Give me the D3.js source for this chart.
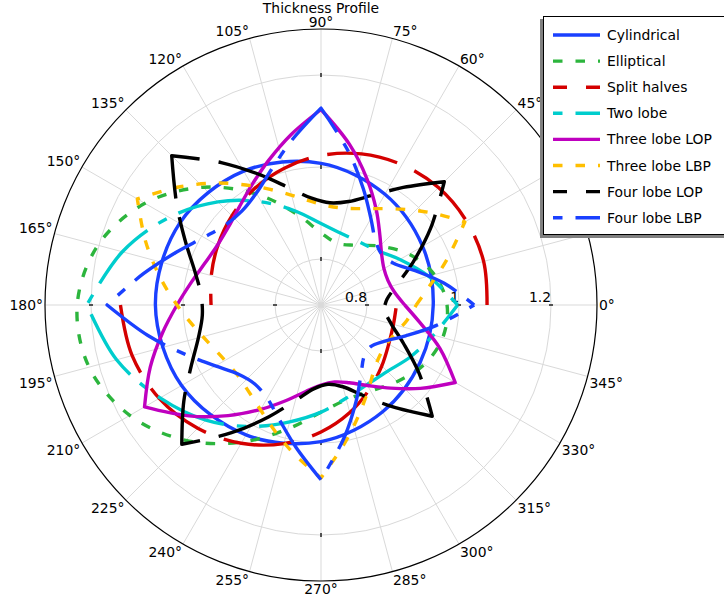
<!DOCTYPE html>
<html><head><meta charset="utf-8">
<script src="https://cdn.jsdelivr.net/npm/d3@7"></script>
<style>body{margin:0;background:#fff}svg{display:block}text{font-family:"DejaVu Sans",sans-serif}</style>
</head><body>
<svg id="chart" width="724" height="602"></svg>
<script>
// ---------------- data ----------------
const seriesNames = ["Cylindrical","Elliptical","Split halves","Two lobe","Three lobe LOP","Three lobe LBP","Four lobe LOP","Four lobe LBP"];
const angleGrid = [0,15,30,45,60,75,90,105,120,135,150,165,180,195,210,225,240,255,270,285,300,315,330,345];
// 15° and 30° labels sit under the legend in the reference, so only the visible ones are written
const angleLabels = [0,45,60,75,90,105,120,135,150,165,180,195,210,225,240,255,270,285,300,315,330,345];
const radialTicks = [0.8,1.0,1.2];
const radialTickLabels = ["0.8","1","1.2"];

const cylAngles = [0,30,60,90,120,150,180,210,240,270,300,330];
const cylValues = [0.944,0.955,0.978,1.008,1.036,1.055,1.060,1.050,1.026,0.997,0.968,0.949];

const ellAngles = [0,15,30,45,60,75,90,105,120,135,150,165,180,195,210,225,240,255,270,285,300,315,330,345];
const ellValues = [0.974,0.955,0.921,0.881,0.850,0.839,0.857,0.905,0.978,1.062,1.142,1.202,1.230,1.222,1.180,1.116,1.044,0.979,0.933,0.913,0.916,0.935,0.959,0.974];

const splitAngles = [0,15,30,45,60,75,90,105,120,135,150,165,180,
                     180,195,210,225,240,255,270,285,300,315,330,345,360];
const splitValues = [1.061,1.066,1.065,1.061,1.052,1.040,1.025,1.008,0.991,0.974,0.959,0.947,0.939,
                     1.136,1.125,1.106,1.079,1.047,1.012,0.976,0.942,0.911,0.887,0.870,0.863,0.864];

const twoAngles = [0,15,30,45,60,75,90,105,120,135,150,165,180,195,210,225,240,255,270,285,300,315,330,345,360];
const twoValues = [0.997,0.942,0.898,0.869,0.860,0.862,0.877,0.911,0.959,1.017,1.081,1.147,1.209,
                   1.160,1.104,1.054,1.005,0.963,0.933,0.910,0.900,0.904,0.925,0.953,0.997];

const lop3Angles = [0,10,20,30,40,50,60,70,80,90,100,110,120,130,140,150,160,170,180,190,200,210,220,230,240,250,260,270,280,290,300,310,320,330,340,350,360];
const lop3Values = [0.882,0.862,0.855,0.858,0.872,0.899,0.940,0.992,1.055,1.125,
                    1.076,1.034,1.001,0.977,0.963,0.960,0.968,0.986,1.013,1.050,1.095,1.143,
                    1.075,1.014,0.962,0.921,0.891,0.874,0.870,0.880,0.902,0.936,0.982,1.037,
                    0.975,0.918,0.882];

const lbp3Angles = [0,10,20,30,40,50,60,70,80,90,100,110,120,130,140,150,160,170,180,190,200,210,220,230,240,250,260,270,280,290,300,310,320,330,340,350,360];
const lbp3Values = [0.907,0.940,0.992,1.061,
                    1.012,0.972,0.942,0.923,0.915,0.919,0.935,0.962,0.999,1.046,1.100,1.161,
                    1.106,1.056,1.013,0.979,0.955,0.941,0.937,0.945,0.963,0.992,1.030,1.076,
                    1.003,0.948,0.908,0.881,0.868,0.866,0.874,0.890,0.907];

const lop4Angles = [0,5,15,25,35,45,55,65,75,85,95,105,115,125,135,145,155,165,175,185,195,205,215,225,235,245,255,265,275,285,295,305,315,325,335,345,355,360];
const lop4Values = [0.839,0.844,0.871,0.921,0.991,1.079,
                    1.012,0.963,0.933,0.923,0.933,0.963,1.012,1.078,1.159,
                    1.083,1.025,0.984,0.962,0.959,0.976,1.011,1.064,1.128,
                    1.039,0.968,0.915,0.883,0.873,0.884,0.917,0.970,1.042,
                    0.961,0.898,0.858,0.839,0.839];

const lbp4Angles = [0,10,20,30,40,50,60,70,80,90,100,110,120,130,140,150,160,170,180,190,200,210,220,230,240,250,260,270,280,290,300,310,320,330,340,350,360];
const lbp4Values = [1.033,0.972,0.918,0.882,0.872,0.884,0.917,0.969,1.040,1.128,
                    1.064,1.014,0.981,0.967,0.971,0.994,1.035,1.092,1.165,
                    1.082,1.014,0.965,0.934,0.924,0.934,0.965,1.014,1.080,
                    0.992,0.923,0.874,0.846,0.841,0.858,0.896,0.955,1.033];

// ---------------- styles ----------------
const cx = 321, cy = 305, R = 276;
const styles = [
  {angles: cylAngles, values: cylValues, cusps: [], closed: true, color: "#1a40ff", dash: null, off: 0, legOff: 0},
  {angles: ellAngles, values: ellValues, cusps: [], closed: true, color: "#2cb53d", dash: "9.5 13", off: 0, legOff: 0},
  {angles: splitAngles, values: splitValues, cusps: [], closed: false, color: "#d40000", dash: "71 19", off: 0, legOff: 57},
  {angles: twoAngles, values: twoValues, cusps: [180], closed: false, color: "#00cdcd", dash: "9.5 13 72 13", off: 0, legOff: 0},
  {angles: lop3Angles, values: lop3Values, cusps: [90,210,330], closed: false, color: "#bf00bf", dash: null, off: 0, legOff: 0},
  {angles: lbp3Angles, values: lbp3Values, cusps: [30,150,270], closed: false, color: "#ffbf00", dash: "9.5 13", off: 0, legOff: 0},
  {angles: lop4Angles, values: lop4Values, cusps: [45,135,225,315], closed: false, color: "#000000", dash: "71 19", off: 57, legOff: 57},
  {angles: lbp4Angles, values: lbp4Values, cusps: [90,180,270], closed: false, color: "#1a40ff", dash: "9.5 13 72 13", off: 0, legOff: 0}
];

const svg = d3.select("#chart");
const rScale = d3.scaleLinear().domain([0.7, 1.3]).range([0, R]);
const toD3 = deg => Math.PI / 2 - deg * Math.PI / 180;
const g = svg.append("g").attr("transform", `translate(${cx},${cy})`);

// grid
g.selectAll("line.spoke").data(angleGrid).join("line")
  .attr("x1", 0).attr("y1", 0)
  .attr("x2", d => R * Math.cos(d * Math.PI / 180))
  .attr("y2", d => -R * Math.sin(d * Math.PI / 180))
  .attr("stroke", "#d9d9d9").attr("stroke-width", 1);
g.selectAll("circle.grid").data(radialTicks).join("circle")
  .attr("r", d => rScale(d)).attr("fill", "none")
  .attr("stroke", "#d9d9d9").attr("stroke-width", 1);
[0, 90, 180, 270].forEach(a => {
  radialTicks.forEach(v => {
    const rr = rScale(v), ca = Math.cos(a * Math.PI / 180), sa = Math.sin(a * Math.PI / 180);
    g.append("line")
      .attr("x1", (rr - 2) * ca).attr("y1", -(rr - 2) * sa)
      .attr("x2", (rr + 2) * ca).attr("y2", -(rr + 2) * sa)
      .attr("stroke", "#222").attr("stroke-width", 1.5);
  });
});
g.append("circle").attr("r", R).attr("fill", "none").attr("stroke", "#000").attr("stroke-width", 1.2);

g.selectAll("text.rlab").data(radialTicks).join("text")
  .attr("x", d => rScale(d)).attr("y", -3)
  .attr("text-anchor", "end").attr("font-size", "13.9px").attr("fill", "#000")
  .text((d, i) => radialTickLabels[i]);

// series
function buildPath(s) {
  const pts = s.angles.map((a, i) => [a, s.values[i]]);
  if (s.closed) {
    return d3.lineRadial().angle(d => toD3(d[0])).radius(d => rScale(d[1]))
      .curve(d3.curveCatmullRomClosed.alpha(0.5))(pts);
  }
  const line = d3.lineRadial().angle(d => toD3(d[0])).radius(d => rScale(d[1]))
    .curve(d3.curveCatmullRom.alpha(0.5));
  const segs = [];
  let cur = [], connect = false;
  pts.forEach((p, i) => {
    if (cur.length && p[0] === cur[cur.length - 1][0]) { // jump -> new subpath
      segs.push({pts: cur, connect}); cur = [p]; connect = false; return;
    }
    cur.push(p);
    if (s.cusps.includes(p[0]) && cur.length > 1 && i < pts.length - 1) {
      segs.push({pts: cur, connect}); cur = [p]; connect = true;
    }
  });
  segs.push({pts: cur, connect});
  return segs.map((sg, k) => {
    let d = line(sg.pts);
    if (k > 0 && sg.connect) d = d.replace(/^M/, "L");
    return d;
  }).join("");
}
styles.forEach(s => {
  g.append("path").attr("d", buildPath(s))
    .attr("fill", "none").attr("stroke", s.color).attr("stroke-width", 3.4)
    .attr("stroke-linejoin", "round").attr("stroke-linecap", "butt")
    .attr("stroke-dasharray", s.dash).attr("stroke-dashoffset", s.off);
});

// angle labels
angleLabels.forEach(a => {
  const ca = Math.cos(a * Math.PI / 180), sa = Math.sin(a * Math.PI / 180);
  const px = (R + 2) * ca, py = -(R + 2) * sa;
  const anchor = ca > 0.01 ? "start" : (ca < -0.01 ? "end" : "middle");
  const by = sa > 0.01 ? py : (sa < -0.01 ? py + 11 : py + 5);
  g.append("text").attr("font-size", "13.9px").attr("fill", "#000")
    .attr("text-anchor", anchor).attr("x", px).attr("y", by).text(a + "\u00b0");
});

// title
svg.append("text").attr("x", cx).attr("y", 12.5).attr("text-anchor", "middle")
  .attr("font-size", "13.9px").text("Thickness Profile");

// legend
const lg = svg.append("g");
lg.append("rect").attr("x", 540).attr("y", 19).attr("width", 200).attr("height", 219).attr("fill", "#808080");
lg.append("rect").attr("x", 543.5).attr("y", 16.5).attr("width", 200).attr("height", 218)
  .attr("fill", "#fff").attr("stroke", "#000").attr("stroke-width", 1);
styles.forEach((s, i) => {
  const y = 35 + i * 26.1;
  lg.append("line").attr("x1", 553).attr("x2", 600).attr("y1", y).attr("y2", y)
    .attr("stroke", s.color).attr("stroke-width", 3.4)
    .attr("stroke-dasharray", s.dash).attr("stroke-dashoffset", s.legOff);
  lg.append("text").attr("x", 607).attr("y", y).attr("dy", "0.36em")
    .attr("font-size", "13.9px").text(seriesNames[i]);
});
</script>
</body></html>
